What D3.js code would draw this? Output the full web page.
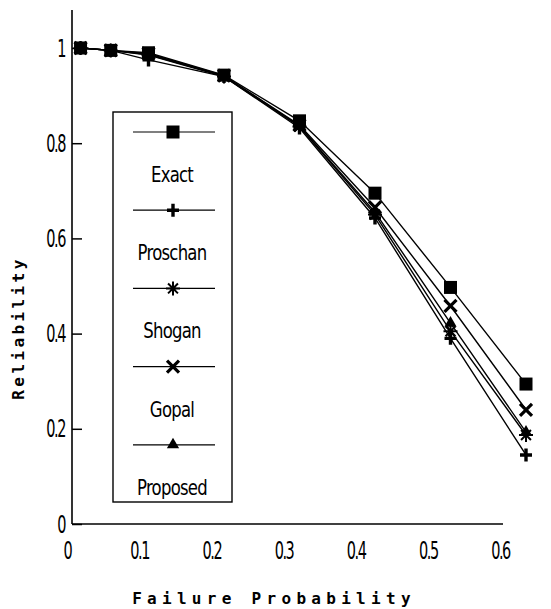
<!DOCTYPE html>
<html>
<head>
<meta charset="utf-8">
<script src="https://cdn.jsdelivr.net/npm/d3@7"></script>
<style>
  body { margin: 0; background: #fff; }
  svg { display: block; }
  .tick text, .legText { font-family: "DejaVu Sans", sans-serif; }
  .title { font-family: "DejaVu Sans Mono", monospace; font-weight: bold; }
</style>
</head>
<body>
<svg id="chart" width="551" height="609"></svg>
<script>
// failure probability on the x axis
const failureProb = [0.01, 0.05, 0.1, 0.2, 0.3, 0.4, 0.5, 0.6];

// reliability for each method
const exact    = [1.0, 0.995, 0.99, 0.943, 0.847, 0.695, 0.497, 0.294];
const proschan = [1.0, 0.995, 0.975, 0.94, 0.832, 0.643, 0.39, 0.145];
const shogan   = [1.0, 0.995, 0.985, 0.94, 0.835, 0.65, 0.405, 0.187];
const gopal    = [1.0, 0.995, 0.988, 0.942, 0.838, 0.665, 0.458, 0.24];
const proposed = [1.0, 0.995, 0.986, 0.941, 0.836, 0.655, 0.422, 0.193];

const seriesNames = ["Exact", "Proschan", "Shogan", "Gopal", "Proposed"];
const seriesValues = [exact, proschan, shogan, gopal, proposed];
const seriesMarkers = ["square", "plus", "asterisk", "times", "triangle"];

const xTickValues = [0, 0.1, 0.2, 0.3, 0.4, 0.5, 0.6];
const yTickValues = [0, 0.2, 0.4, 0.6, 0.8, 1];

const svg = d3.select("#chart");
svg.append("rect").attr("width", 551).attr("height", 609).attr("fill", "#fff");

// scales (the old plot draws tick labels a little off from the data grid)
const x = d3.scaleLinear().domain([0, 0.6]).range([73, 526]);
const xLabel = d3.scaleLinear().domain([0, 0.6]).range([67, 500]);
const y = d3.scaleLinear().domain([0, 1]).range([524, 48]);

const axisX = 72;
const axisY = y(0);
const squeeze = 0.58; // narrow look of the labels

// axis lines
svg.append("line")
    .attr("x1", axisX).attr("x2", axisX)
    .attr("y1", 10).attr("y2", axisY)
    .attr("stroke", "#000").attr("stroke-width", 1.6);
svg.append("line")
    .attr("x1", axisX).attr("x2", 503)
    .attr("y1", axisY).attr("y2", axisY)
    .attr("stroke", "#000").attr("stroke-width", 1.6);

// y axis ticks pointing inward
const gy = svg.append("g")
    .attr("transform", `translate(${axisX},0)`)
    .call(d3.axisLeft(y).tickValues(yTickValues).tickSize(-10).tickPadding(7 / squeeze).tickFormat(d => String(d)));
gy.select(".domain").remove();
gy.selectAll(".tick line").attr("stroke-width", 1.5);
gy.selectAll(".tick text")
    .attr("font-size", 25).attr("letter-spacing", -2.5).attr("fill", "#000")
    .attr("transform", `scale(${squeeze},1)`);

// x axis labels only
const gx = svg.append("g")
    .attr("transform", `translate(0,${axisY})`)
    .call(d3.axisBottom(xLabel).tickValues(xTickValues).tickSize(0).tickPadding(17).tickFormat(d => String(d)));
gx.select(".domain").remove();
gx.selectAll(".tick text")
    .attr("font-size", 25).attr("letter-spacing", -2.5).attr("fill", "#000")
    .attr("transform", `scale(${squeeze},1)`);

// axis titles
svg.append("text")
    .attr("class", "title")
    .attr("x", 274).attr("y", 604)
    .attr("text-anchor", "middle")
    .attr("font-size", 16)
    .attr("letter-spacing", 5.3)
    .text("Failure Probability");

svg.append("text")
    .attr("class", "title")
    .attr("transform", "translate(24,328) rotate(-90)")
    .attr("text-anchor", "middle")
    .attr("font-size", 16)
    .attr("letter-spacing", 3.4)
    .text("Reliability");

// marker drawing
function drawMarker(g, type, cx, cy) {
    if (type === "square") {
        g.append("rect").attr("x", cx - 6.5).attr("y", cy - 6.5)
            .attr("width", 13).attr("height", 13).attr("fill", "#000");
    } else if (type === "triangle") {
        g.append("path")
            .attr("transform", `translate(${cx},${cy})`)
            .attr("d", d3.symbol().type(d3.symbolTriangle).size(65)())
            .attr("fill", "#000");
    } else if (type === "plus") {
        g.append("path")
            .attr("d", `M${cx - 6},${cy}H${cx + 6}M${cx},${cy - 6.5}V${cy + 6.5}`)
            .attr("stroke", "#000").attr("stroke-width", 3.4);
    } else if (type === "times") {
        g.append("path")
            .attr("d", `M${cx - 6},${cy - 6}L${cx + 6},${cy + 6}M${cx - 6},${cy + 6}L${cx + 6},${cy - 6}`)
            .attr("stroke", "#000").attr("stroke-width", 3.2);
    } else if (type === "asterisk") {
        let d = "";
        for (let k = 0; k < 4; k++) {
            const a = k * Math.PI / 4;
            const dx = 7 * Math.sin(a), dy = 7 * Math.cos(a);
            d += `M${cx - dx},${cy - dy}L${cx + dx},${cy + dy}`;
        }
        g.append("path").attr("d", d).attr("stroke", "#000").attr("stroke-width", 2);
    }
}

// series lines and markers
const line = d3.line().x((d, i) => x(failureProb[i])).y(d => y(d));
const plot = svg.append("g");

seriesValues.forEach((vals, s) => {
    plot.append("path")
        .attr("d", line(vals))
        .attr("fill", "none")
        .attr("stroke", "#000")
        .attr("stroke-width", 1.4);
});
seriesValues.forEach((vals, s) => {
    vals.forEach((v, i) => drawMarker(plot, seriesMarkers[s], x(failureProb[i]), y(v)));
});

// legend
const legend = svg.append("g");
legend.append("rect")
    .attr("x", 113).attr("y", 112)
    .attr("width", 119).attr("height", 390)
    .attr("fill", "#fff")
    .attr("stroke", "#000").attr("stroke-width", 1.4);

seriesNames.forEach((name, i) => {
    const rowY = 132 + i * 78.2;
    legend.append("line")
        .attr("x1", 133).attr("x2", 215)
        .attr("y1", rowY).attr("y2", rowY)
        .attr("stroke", "#000").attr("stroke-width", 1.2);
    drawMarker(legend, seriesMarkers[i], 173, rowY);
    legend.append("text")
        .attr("class", "legText")
        .attr("transform", `translate(172,${rowY + 50}) scale(0.75,1)`)
        .attr("text-anchor", "middle")
        .attr("font-size", 22)
        .attr("letter-spacing", -1)
        .text(name);
});
</script>
</body>
</html>
